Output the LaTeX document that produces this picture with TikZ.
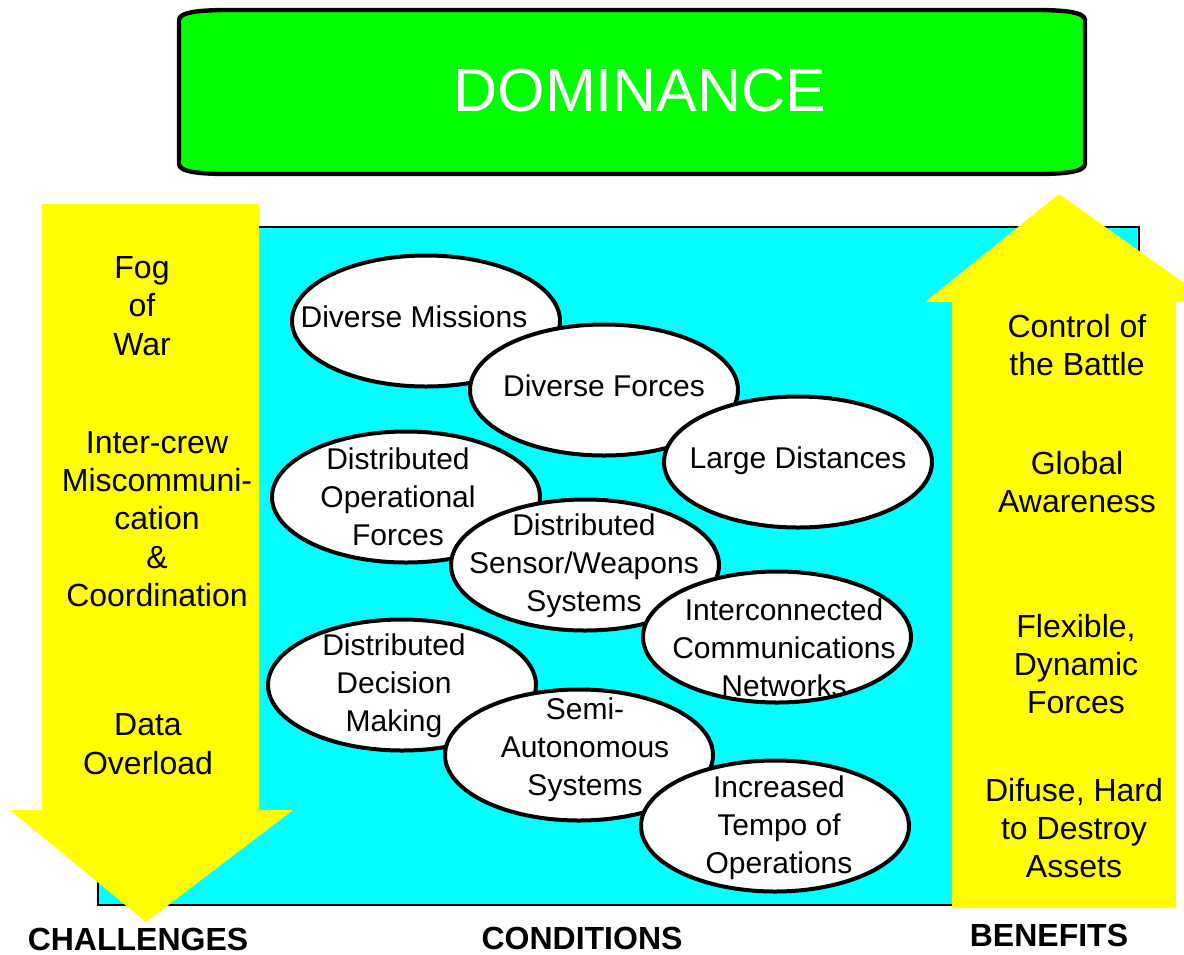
\documentclass[tikz,border=0pt]{standalone}
\usepackage{fontspec}
\setmainfont{Liberation Sans}
\usetikzlibrary{shapes.geometric}
\definecolor{domgreen}{RGB}{0,255,0}
\definecolor{condcyan}{RGB}{0,255,255}
\definecolor{arrowyellow}{RGB}{255,255,0}

\begin{document}
\begin{tikzpicture}
      [%%%%%%%%%%%%%%%%%%%%%%%%%%%%%%
      x=0.5pt, y=-0.5pt,
      cond/.style={ellipse,draw=black,line width=2pt,fill=white,inner sep=0pt,minimum width=134pt,minimum height=65.5pt},
      condtxt/.style={align=center,inner sep=0pt,font=\fontsize{15}{19}\selectfont},
      sidetxt/.style={align=center,inner sep=0pt,font=\fontsize{16}{19.2}\selectfont},
      headtxt/.style={inner sep=0pt,font=\bfseries\fontsize{16}{19}\selectfont},
      bigarrow/.style={fill=arrowyellow,draw=none},
      ]%%%%%%%%%%%%%%%%%%%%%%%%%%%%%%
      \useasboundingbox (0,0) rectangle (1184,954);

      % conditions field
      \fill[condcyan,draw=black,line width=1.3pt] (98,227) rectangle (1139,905);

      % challenges (down) and benefits (up)
      \fill[bigarrow] (42,204) -- (259,204) -- (259,810) -- (293,810) -- (146,922) -- (10,810) -- (42,810) -- cycle;
      \fill[bigarrow] (952,908) -- (952,302) -- (925,302) -- (1059,194) -- (1211,302) -- (1176,302) -- (1176,908) -- cycle;

      % dominance bar
      \draw[fill=domgreen,line width=2.2pt] (179,20) .. controls (179,12) and (200,10) .. (229,10) -- (1035,10)
            .. controls (1064,10) and (1085,12) .. (1085,20) -- (1085,164)
            .. controls (1085,172) and (1064,174) .. (1035,174) -- (229,174)
            .. controls (200,174) and (179,172) .. (179,164) -- cycle;
      \node[inner sep=0pt,text=white,font=\fontsize{30.5}{36}\selectfont] (dom) at (640,90) {DOMINANCE};

      % ellipses
      \node[cond] (dmis) at (426,321) {};
      \node[condtxt] (dmis-t) at (414,317) {Diverse Missions};
      \node[cond] (dfor) at (604,390) {};
      \node[condtxt] (dfor-t) at (604,386) {Diverse Forces};
      \node[cond] (ldis) at (798,462) {};
      \node[condtxt] (ldis-t) at (798,461) {Large Distances};
      \node[cond] (dops) at (406,497) {};
      \node[condtxt] (dops-t) at (398,497) {Distributed\\Operational\\Forces};
      \node[cond] (dsen) at (585,565) {};
      \node[condtxt] (dsen-t) at (584,566) {Distributed\\Sensor/Weapons\\Systems};
      \node[cond] (icom) at (777,637) {};
      \node[condtxt] (icom-t) at (784,648) {Interconnected\\Communications\\Networks};
      \node[cond] (ddec) at (402,685) {};
      \node[condtxt] (ddec-t) at (394,686) {Distributed\\Decision\\Making};
      \node[cond] (semi) at (579,755) {};
      \node[condtxt] (semi-t) at (585,750) {Semi-\\Autonomous\\Systems};
      \node[cond] (itmp) at (775,826) {};
      \node[condtxt] (itmp-t) at (779,828) {Increased\\Tempo of\\Operations};

      % challenges
      \node[sidetxt] (fog) at (142,306) {Fog\\of\\War};
      \node[sidetxt] (icrew) at (157,519) {Inter-crew\\Miscommuni-\\cation\\\&\\Coordination};
      \node[sidetxt] (data) at (148,744) {Data\\Overload};

      % benefits
      \node[sidetxt] (ctrl) at (1077,345) {Control of\\the Battle};
      \node[sidetxt] (glob) at (1077,482) {Global\\Awareness};
      \node[sidetxt] (flex) at (1076,664) {Flexible,\\Dynamic\\Forces};
      \node[sidetxt] (difu) at (1074,828) {Difuse, Hard\\to Destroy\\Assets};

      % column heads
      \node[headtxt] (chal) at (138,939) {CHALLENGES};
      \node[headtxt] (cndh) at (582,938) {CONDITIONS};
      \node[headtxt] (bene) at (1049,935) {BENEFITS};
    \end{tikzpicture}
\end{document}
